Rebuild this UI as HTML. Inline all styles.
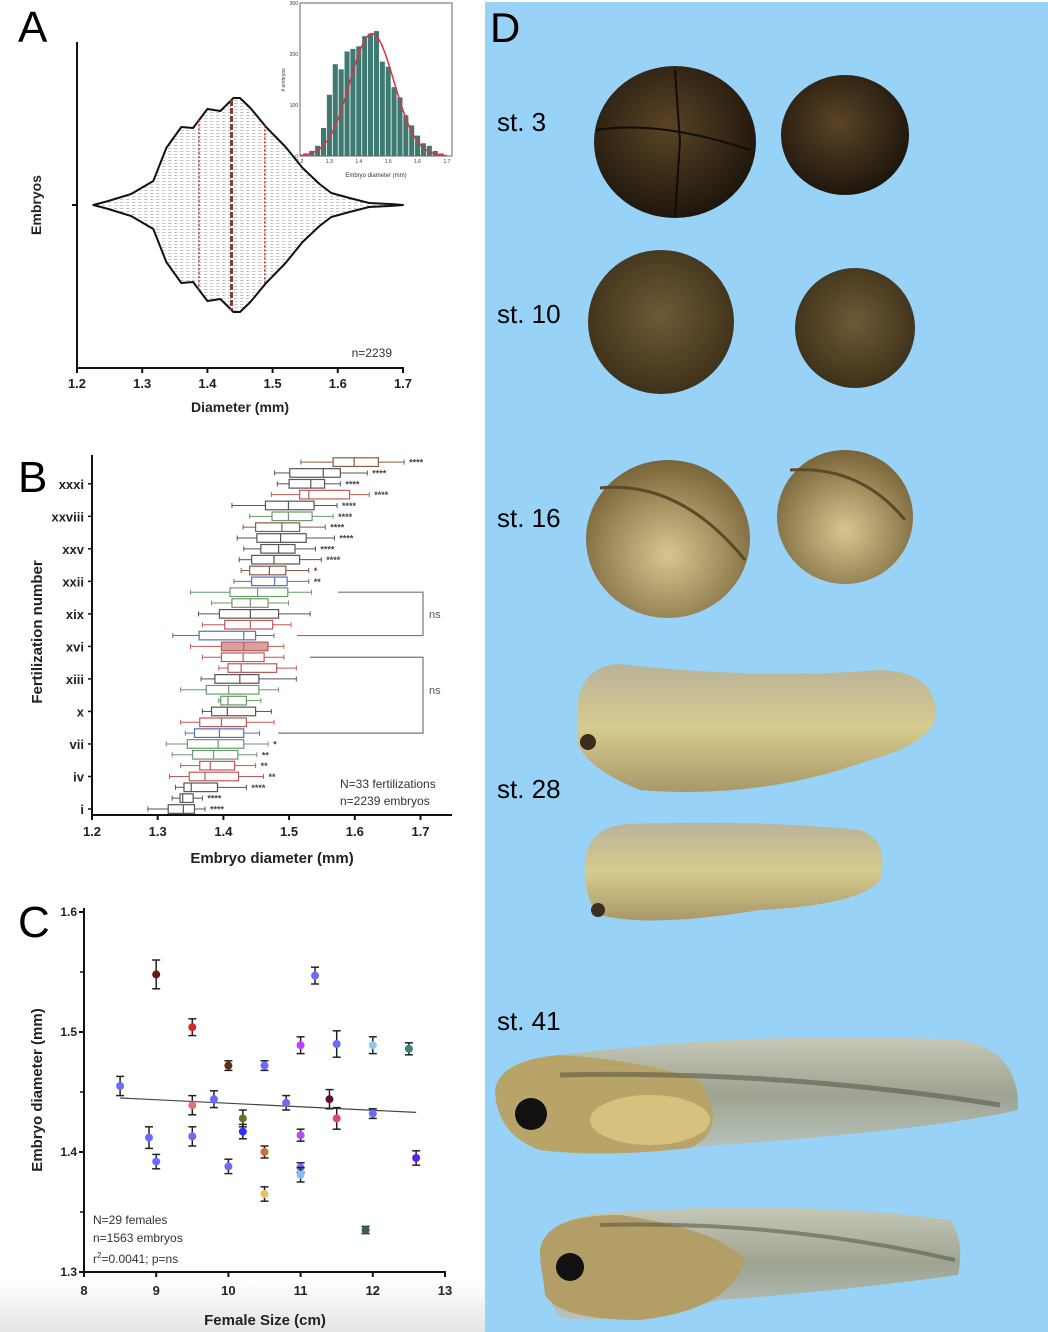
<!DOCTYPE html>
<html><head><meta charset="utf-8">
<style>
html,body{margin:0;padding:0;background:#fff;}
svg{display:block;font-family:"Liberation Sans",Arial,sans-serif;}
</style></head>
<body>
<svg id="fig" width="1048" height="1332" viewBox="0 0 1048 1332" xmlns="http://www.w3.org/2000/svg">
<defs>
  <pattern id="dots" width="6" height="3" patternUnits="userSpaceOnUse">
    <rect width="6" height="3" fill="#fff"/>
    <rect x="0" y="1" width="3.5" height="1" fill="#c4c4c4"/>
  </pattern>
  <radialGradient id="egg3" cx="45%" cy="40%" r="60%"><stop offset="0" stop-color="#5a4426"/><stop offset="1" stop-color="#1e160c"/></radialGradient>
  <radialGradient id="egg10" cx="50%" cy="45%" r="60%"><stop offset="0" stop-color="#6e5a36"/><stop offset="1" stop-color="#3a2e18"/></radialGradient>
  <radialGradient id="egg16" cx="50%" cy="60%" r="60%"><stop offset="0" stop-color="#d8c690"/><stop offset="1" stop-color="#786438"/></radialGradient>
  <linearGradient id="tad28" x1="0" y1="0" x2="0" y2="1"><stop offset="0" stop-color="#b9b39a"/><stop offset="0.5" stop-color="#d6cb8e"/><stop offset="1" stop-color="#a89868"/></linearGradient>
  <linearGradient id="tad41" x1="0" y1="0" x2="0" y2="1"><stop offset="0" stop-color="#c5c8b6"/><stop offset="0.5" stop-color="#9ea392"/><stop offset="1" stop-color="#b8c4bc"/></linearGradient>
  <linearGradient id="fade" x1="0" y1="0" x2="0" y2="1"><stop offset="0" stop-color="#fff"/><stop offset="1" stop-color="#e4e4e4"/></linearGradient>
</defs>

<rect x="0" y="1280" width="485" height="52" fill="url(#fade)"/>

<!-- Panel D -->
<g>
  <rect x="485" y="2" width="563" height="1330" fill="#98d2f6"/>
  <text x="490" y="42" font-size="42">D</text>
  <text x="497" y="131" font-size="26">st. 3</text>
  <text x="497" y="323" font-size="26">st. 10</text>
  <text x="497" y="527" font-size="26">st. 16</text>
  <text x="497" y="798" font-size="26">st. 28</text>
  <text x="497" y="1030" font-size="26">st. 41</text>
  <ellipse cx="675" cy="142" rx="81" ry="76" fill="url(#egg3)"/>
  <path d="M596 130 Q660 120 750 150 M675 70 L680 142 L675 216" stroke="#120c06" stroke-width="2" fill="none"/>
  <ellipse cx="845" cy="135" rx="64" ry="60" fill="url(#egg3)"/>
  <ellipse cx="661" cy="322" rx="73" ry="72" fill="url(#egg10)"/>
  <ellipse cx="855" cy="328" rx="60" ry="60" fill="url(#egg10)"/>
  <ellipse cx="668" cy="539" rx="82" ry="79" fill="url(#egg16)"/>
  <path d="M600 488 Q680 480 745 560" stroke="#5a4a28" stroke-width="3" fill="none"/>
  <ellipse cx="845" cy="517" rx="68" ry="67" fill="url(#egg16)"/>
  <path d="M790 470 Q860 465 905 520" stroke="#5a4a28" stroke-width="3" fill="none"/>
  <path d="M578 700 Q585 665 620 664 Q760 680 880 670 Q940 672 935 720 Q925 745 870 760 Q760 800 640 790 Q590 770 578 745 Z" fill="url(#tad28)"/>
  <circle cx="588" cy="742" r="8" fill="#3a2e20"/>
  <path d="M585 860 Q590 825 630 824 Q760 820 860 830 Q890 840 880 880 Q860 905 760 910 Q650 928 600 915 Q583 900 585 860 Z" fill="url(#tad28)"/>
  <circle cx="598" cy="910" r="7" fill="#3a2e20"/>
  <path d="M495 1090 Q500 1060 560 1055 Q760 1030 960 1040 Q1020 1050 1018 1110 Q930 1130 720 1145 Q600 1155 540 1150 Q497 1135 495 1090 Z" fill="url(#tad41)"/>
  <path d="M495 1090 Q500 1060 560 1055 Q640 1060 700 1080 Q730 1130 690 1148 Q600 1158 540 1150 Q497 1135 495 1090 Z" fill="#b8a468"/>
  <ellipse cx="650" cy="1120" rx="60" ry="25" fill="#d6c27e"/>
  <path d="M560 1075 Q780 1070 1000 1105" stroke="#4a4a40" stroke-width="5" fill="none" opacity="0.5"/>
  <circle cx="531" cy="1114" r="16" fill="#111"/>
  <path d="M540 1250 Q545 1215 620 1212 Q800 1200 950 1220 Q965 1240 958 1275 Q850 1290 720 1300 Q620 1325 560 1318 Q540 1290 540 1250 Z" fill="url(#tad41)"/>
  <path d="M540 1250 Q545 1215 620 1215 Q720 1230 745 1260 Q730 1310 640 1320 Q560 1320 545 1295 Z" fill="#b29e66"/>
  <path d="M600 1225 Q780 1220 955 1260" stroke="#4a4a40" stroke-width="4" fill="none" opacity="0.5"/>
  <circle cx="570" cy="1267" r="14" fill="#111"/>
</g>

<!-- Panel A -->
<g id="panelA">
  <text x="18" y="42" font-size="44">A</text>
</g>
<!-- Panel B -->
<g id="panelB">
  <text x="18" y="492" font-size="44">B</text>
</g>
<!-- Panel C -->
<g id="panelC">
  <text x="18" y="937" font-size="44">C</text>
</g>
</svg>

<script>
// ---------- Panel A data ----------
const violinDiam = [1.225,1.248,1.283,1.317,1.337,1.36,1.378,1.40,1.42,1.44,1.45,1.466,1.49,1.52,1.546,1.572,1.59,1.618,1.648,1.68,1.70];
const violinHalf = [0,4,11,24,57,78,77,96,94,107,107,97,78,58,37,21,12,7,2,1,0];
const violinQuart = [1.387,1.437,1.488];
const aTicks = [1.2,1.3,1.4,1.5,1.6,1.7];
const histBins = [1.22,1.24,1.26,1.28,1.30,1.32,1.34,1.36,1.38,1.40,1.42,1.44,1.46,1.48,1.50,1.52,1.54,1.56,1.58,1.60,1.62,1.64,1.66,1.68];
const histCounts = [5,10,20,55,120,180,170,205,210,215,235,240,245,185,175,135,115,80,60,40,25,20,10,5];
const histYTicks = [0,100,200,300];
const histXTicks = [1.2,1.3,1.4,1.5,1.6,1.7];

// ---------- Panel B data ----------
const bRows = [1,2,3,4,5,6,7,8,9,10,11,12,13,14,15,16,17,18,19,20,21,22,23,24,25,26,27,28,29,30,31,32,33];
const bLo  = [1.285,1.322,1.327,1.318,1.335,1.322,1.313,1.342,1.335,1.368,1.393,1.335,1.366,1.393,1.368,1.350,1.323,1.368,1.362,1.382,1.350,1.416,1.427,1.424,1.431,1.421,1.430,1.440,1.413,1.473,1.482,1.478,1.518];
const bQ1  = [1.316,1.334,1.340,1.348,1.364,1.353,1.345,1.356,1.364,1.382,1.396,1.374,1.387,1.407,1.397,1.397,1.363,1.402,1.394,1.413,1.410,1.443,1.440,1.443,1.457,1.451,1.449,1.474,1.464,1.516,1.500,1.501,1.567];
const bMed = [1.339,1.338,1.351,1.372,1.380,1.385,1.392,1.394,1.397,1.406,1.407,1.408,1.425,1.427,1.430,1.431,1.431,1.441,1.441,1.441,1.452,1.478,1.470,1.477,1.484,1.487,1.489,1.499,1.499,1.530,1.533,1.552,1.599];
const bQ3  = [1.356,1.354,1.391,1.423,1.417,1.422,1.431,1.431,1.435,1.449,1.435,1.454,1.454,1.481,1.462,1.468,1.449,1.475,1.484,1.468,1.498,1.497,1.495,1.516,1.509,1.526,1.516,1.535,1.538,1.592,1.554,1.578,1.636];
const bHi  = [1.372,1.368,1.435,1.461,1.449,1.451,1.468,1.455,1.477,1.473,1.457,1.484,1.511,1.511,1.492,1.492,1.477,1.503,1.532,1.499,1.534,1.530,1.530,1.549,1.540,1.569,1.555,1.567,1.573,1.622,1.578,1.619,1.675];
const bColor = ['g','g','g','r','r','n','n','b','r','g','n','n','g','r','r','rf','b','r','g','n','n','b','w','g','g','g','w','n','g','r','g','g','w'];
const bStars = ['****','****','****','**','**','**','*','','','','','','','','','','','','','','','**','*','****','****','****','****','****','****','****','****','****','****'];
const bLabels = ['i','iv','vii','x','xiii','xvi','xix','xxii','xxv','xxviii','xxxi'];
const bLabelRows = [1,4,7,10,13,16,19,22,25,28,31];
const bTicks = [1.2,1.3,1.4,1.5,1.6,1.7];

// ---------- Panel C data ----------
const cSize = [8.5,9.0,8.9,9.0,9.5,9.5,9.5,9.8,10.0,10.0,10.2,10.2,10.5,10.5,10.5,10.8,11.0,11.0,11.0,11.0,11.2,11.4,11.5,11.5,11.9,12.0,12.0,12.5,12.6];
const cDiam = [1.455,1.548,1.412,1.392,1.504,1.439,1.413,1.444,1.472,1.388,1.428,1.417,1.472,1.400,1.365,1.441,1.489,1.414,1.387,1.381,1.547,1.444,1.490,1.428,1.335,1.489,1.432,1.486,1.395];
const cErr  = [0.008,0.012,0.009,0.006,0.007,0.008,0.008,0.007,0.004,0.006,0.007,0.006,0.004,0.005,0.006,0.006,0.007,0.005,0.004,0.006,0.007,0.008,0.011,0.009,0.003,0.007,0.004,0.005,0.006];
const cColor = ['#6a6aff','#6b1414','#6a6aff','#6a6aff','#d42828','#e07070','#6a6aff','#6a6aff','#5a3010','#6a6aff','#707020','#3030ff','#6a6aff','#d07030','#e8c060','#6a6aff','#c040ff','#b050f0','#6a6aff','#80c0f0','#6a6aff','#601030','#6a6aff','#e04080','#306060','#90c8f0','#6a6aff','#408080','#6020e0'];
const cFitX = [8.5,12.6];
const cFitY = [1.445,1.433];
const cYTicks = [1.3,1.4,1.5,1.6];
const cYMinor = [1.35,1.45,1.55];
const cXTicks = [8,9,10,11,12,13];

const NS = 'http://www.w3.org/2000/svg';
function mk(parent, tag, attrs, text) {
  const e = document.createElementNS(NS, tag);
  for (const k in attrs) e.setAttribute(k, attrs[k]);
  if (text !== undefined) e.textContent = text;
  parent.appendChild(e);
  return e;
}

// ===== Panel A =====
(function(){
  const g = document.getElementById('panelA');
  const xA = v => 77 + (v - 1.2) * 652;
  const cy = 205;
  let top = '', bot = '';
  violinDiam.forEach((d,i)=>{ top += (i?'L':'M') + xA(d).toFixed(1) + ' ' + (cy - violinHalf[i]).toFixed(1) + ' '; });
  for (let i = violinDiam.length-1; i >= 0; i--) bot += 'L' + xA(violinDiam[i]).toFixed(1) + ' ' + (cy + violinHalf[i]).toFixed(1) + ' ';
  const v = mk(g,'path',{d: top + bot + 'Z', fill:'url(#dots)', stroke:'#111', 'stroke-width':2, 'stroke-linejoin':'round'});
  
  
  const halfAt = d => { for (let i=1;i<violinDiam.length;i++){ if (d<=violinDiam[i]){ const t=(d-violinDiam[i-1])/(violinDiam[i]-violinDiam[i-1]); return violinHalf[i-1]+t*(violinHalf[i]-violinHalf[i-1]); } } return 0; };
  violinQuart.forEach((q,i)=>{
    const h = halfAt(q);
    const l = mk(g,'line',{x1:xA(q),x2:xA(q),y1:cy-h,y2:cy+h,stroke: i===1?'#8a3a3a':'#d03030','stroke-width': i===1?3:1.5,'stroke-dasharray': i===1?'6 2':'2 2'});
    
    
  });
  mk(g,'line',{x1:77,y1:42,x2:77,y2:369,stroke:'#111','stroke-width':2});
  mk(g,'line',{x1:76,y1:368,x2:404,y2:368,stroke:'#111','stroke-width':2});
  mk(g,'line',{x1:72,y1:205,x2:77,y2:205,stroke:'#111','stroke-width':2});
  aTicks.forEach(t=>{
    mk(g,'line',{x1:xA(t),x2:xA(t),y1:368,y2:373,stroke:'#111','stroke-width':2});
    const tx = mk(g,'text',{x:xA(t),y:388,'font-size':13,'font-weight':'bold','text-anchor':'middle',fill:'#222'}, t.toFixed(1));
    
    
  });
  const xt = mk(g,'text',{x:240,y:412,'font-size':14,'font-weight':'bold','text-anchor':'middle',fill:'#222'},'Diameter (mm)');
  
  
  const yt = mk(g,'text',{x:0,y:0,'font-size':14,'font-weight':'bold','text-anchor':'middle',fill:'#222',transform:'translate(41,205) rotate(-90)'},'Embryos');
  
  
  const n = mk(g,'text',{x:392,y:357,'font-size':12,'text-anchor':'end',fill:'#333'},'n=2239');
  
  
  const ix = v => 300 + (v - 1.2) * 294;
  const iy = c => 156 - c * 0.51;
  const bg = mk(g,'rect',{x:300,y:3,width:152,height:153,fill:'#fff',stroke:'#666','stroke-width':1});
  
  
  histBins.forEach((b,i)=>{
    const r = mk(g,'rect',{x:ix(b-0.01)+0.4,y:iy(histCounts[i]),width:294*0.02-0.8,height:156-iy(histCounts[i]),fill:'#3f7a72'});
    
    
  });
  let p = '';
  for (let k=0;k<=60;k++){ const xv = 1.2 + k*0.5/60; const c = 240*Math.exp(-Math.pow(xv-1.445,2)/(2*0.075*0.075)); p += (k?'L':'M') + ix(xv).toFixed(1) + ' ' + iy(c).toFixed(1) + ' '; }
  const cu = mk(g,'path',{d:p,fill:'none',stroke:'#e03040','stroke-width':1.5});
  
  
  histYTicks.forEach(t=>{ mk(g,'text',{x:298,y:iy(t)+2,'font-size':5,'text-anchor':'end',fill:'#333'},String(t)); });
  histXTicks.forEach(t=>{ mk(g,'text',{x:ix(t),y:163,'font-size':5,'text-anchor':'middle',fill:'#333'},t.toFixed(1)); });
  mk(g,'text',{x:376,y:177,'font-size':6,'text-anchor':'middle',fill:'#333'},'Embryo diameter (mm)');
  mk(g,'text',{x:0,y:0,'font-size':5,'text-anchor':'middle',fill:'#333',transform:'translate(285,80) rotate(-90)'},'# embryos');
})();

// ===== Panel B =====
(function(){
  const g = document.getElementById('panelB');
  const xB = v => 92 + (v - 1.2) * 657;
  const yB = r => 809 - (r - 1) * 10.84;
  const cmap = {g:'#555',n:'#6a9a6a',r:'#c05858',b:'#5570b8',w:'#8a5a40',rf:'#c05858'};
  bRows.forEach((r,i)=>{
    const y = yB(r), c = cmap[bColor[i]];
    const grp = mk(g,'g',{});
    
    
    mk(grp,'line',{x1:xB(bLo[i]),x2:xB(bQ1[i]),y1:y,y2:y,stroke:c,'stroke-width':1});
    mk(grp,'line',{x1:xB(bQ3[i]),x2:xB(bHi[i]),y1:y,y2:y,stroke:c,'stroke-width':1});
    mk(grp,'line',{x1:xB(bLo[i]),x2:xB(bLo[i]),y1:y-2.5,y2:y+2.5,stroke:c,'stroke-width':1});
    mk(grp,'line',{x1:xB(bHi[i]),x2:xB(bHi[i]),y1:y-2.5,y2:y+2.5,stroke:c,'stroke-width':1});
    mk(grp,'rect',{x:xB(bQ1[i]),y:y-4.3,width:xB(bQ3[i])-xB(bQ1[i]),height:8.6,fill:bColor[i]==='rf'?'#d8a0a0':'#fff',stroke:c,'stroke-width':1.2});
    mk(grp,'line',{x1:xB(bMed[i]),x2:xB(bMed[i]),y1:y-4.3,y2:y+4.3,stroke:c,'stroke-width':1.2});
    if (bStars[i]) {
      const s = mk(g,'text',{x:xB(bHi[i])+5,y:y+3.5,'font-size':9,'font-weight':'bold',fill:'#444'},bStars[i]);
      
      
    }
  });
  const br1 = mk(g,'path',{d:`M338 ${yB(21)} H423 V${yB(17)} H297`,fill:'none',stroke:'#777','stroke-width':1.2});
  
  
  const br2 = mk(g,'path',{d:`M310 ${yB(15)} H423 V${yB(8)} H278`,fill:'none',stroke:'#777','stroke-width':1.2});
  
  
  mk(g,'text',{x:429,y:618,'font-size':11,fill:'#555'},'ns');
  mk(g,'text',{x:429,y:694,'font-size':11,fill:'#555'},'ns');
  mk(g,'line',{x1:92,y1:455,x2:92,y2:816,stroke:'#111','stroke-width':2});
  mk(g,'line',{x1:91,y1:815,x2:452,y2:815,stroke:'#111','stroke-width':2});
  bLabelRows.forEach((r,i)=>{
    mk(g,'line',{x1:88,x2:92,y1:yB(r),y2:yB(r),stroke:'#111','stroke-width':1.5});
    const t = mk(g,'text',{x:84,y:yB(r)+5,'font-size':13,'font-weight':'bold','text-anchor':'end',fill:'#222'},bLabels[i]);
    
    
  });
  bTicks.forEach(t=>{
    mk(g,'line',{x1:xB(t),x2:xB(t),y1:815,y2:820,stroke:'#111','stroke-width':2});
    const tx = mk(g,'text',{x:xB(t),y:836,'font-size':13,'font-weight':'bold','text-anchor':'middle',fill:'#222'},t.toFixed(1));
    
    
  });
  const xt = mk(g,'text',{x:272,y:863,'font-size':15,'font-weight':'bold','text-anchor':'middle',fill:'#222'},'Embryo diameter (mm)');
  
  
  const yt = mk(g,'text',{x:0,y:0,'font-size':15,'font-weight':'bold','text-anchor':'middle',fill:'#222',transform:'translate(42,632) rotate(-90)'},'Fertilization number');
  
  
  mk(g,'text',{x:340,y:788,'font-size':12,fill:'#333'},'N=33 fertilizations');
  mk(g,'text',{x:340,y:805,'font-size':12,fill:'#333'},'n=2239 embryos');
})();

// ===== Panel C =====
(function(){
  const g = document.getElementById('panelC');
  const xC = v => 84 + (v - 8) * 72.2;
  const yC = v => 1272 - (v - 1.3) * 1200;
  const fl = mk(g,'line',{x1:xC(cFitX[0]),y1:yC(cFitY[0]),x2:xC(cFitX[1]),y2:yC(cFitY[1]),stroke:'#444','stroke-width':1.2});
  
  
  cSize.forEach((s,i)=>{
    const x = xC(s), y = yC(cDiam[i]), e = cErr[i]*1200;
    const grp = mk(g,'g',{});
    
    
    mk(grp,'line',{x1:x,x2:x,y1:y-e,y2:y+e,stroke:'#222','stroke-width':1.5});
    mk(grp,'line',{x1:x-4,x2:x+4,y1:y-e,y2:y-e,stroke:'#222','stroke-width':1.5});
    mk(grp,'line',{x1:x-4,x2:x+4,y1:y+e,y2:y+e,stroke:'#222','stroke-width':1.5});
    mk(grp,'circle',{cx:x,cy:y,r:4,fill:cColor[i]});
  });
  mk(g,'line',{x1:84,y1:908,x2:84,y2:1273,stroke:'#111','stroke-width':2});
  mk(g,'line',{x1:83,y1:1272,x2:446,y2:1272,stroke:'#111','stroke-width':2});
  cYTicks.forEach(t=>{
    mk(g,'line',{x1:79,x2:84,y1:yC(t),y2:yC(t),stroke:'#111','stroke-width':2});
    const tx = mk(g,'text',{x:77,y:yC(t)+4,'font-size':12,'font-weight':'bold','text-anchor':'end',fill:'#222'},t.toFixed(1));
    
    
  });
  cYMinor.forEach(t=>{ mk(g,'line',{x1:80,x2:84,y1:yC(t),y2:yC(t),stroke:'#111','stroke-width':1.5}); });
  cXTicks.forEach(t=>{
    mk(g,'line',{x1:xC(t),x2:xC(t),y1:1272,y2:1277,stroke:'#111','stroke-width':2});
    const tx = mk(g,'text',{x:xC(t),y:1295,'font-size':13,'font-weight':'bold','text-anchor':'middle',fill:'#222'},String(t));
    
    
  });
  const xt = mk(g,'text',{x:265,y:1325,'font-size':15,'font-weight':'bold','text-anchor':'middle',fill:'#222'},'Female Size (cm)');
  
  
  const yt = mk(g,'text',{x:0,y:0,'font-size':15,'font-weight':'bold','text-anchor':'middle',fill:'#222',transform:'translate(42,1090) rotate(-90)'},'Embryo diameter (mm)');
  
  
  mk(g,'text',{x:93,y:1224,'font-size':12,fill:'#333'},'N=29 females');
  mk(g,'text',{x:93,y:1242,'font-size':12,fill:'#333'},'n=1563 embryos');
  const st = mk(g,'text',{x:93,y:1263,'font-size':12,fill:'#333'});
  mk(st,'tspan',{},'r');
  mk(st,'tspan',{'font-size':8,dy:-5},'2');
  mk(st,'tspan',{dy:5},'=0.0041; p=ns');
})();
</script>
</body></html>
